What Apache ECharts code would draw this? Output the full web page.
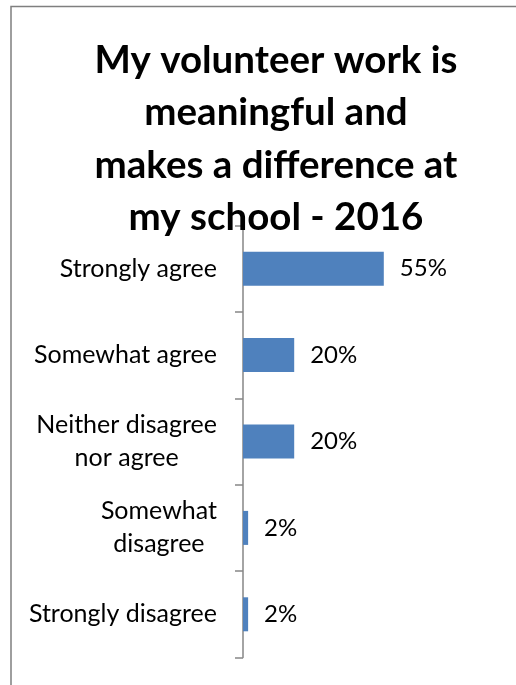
<!DOCTYPE html>
<html>
<head>
<meta charset="utf-8">
<script src="https://cdn.jsdelivr.net/npm/echarts@6/dist/echarts.min.js"></script>
<style>
html,body{margin:0;padding:0;background:#fff;}
#chart{width:516px;height:685px;}
</style>
</head>
<body>
<div id="chart"></div>
<script>
const titleText = "My volunteer work is\nmeaningful and\nmakes a difference at\nmy school - 2016";
const categories = ["Strongly agree", "Somewhat agree", "Neither disagree\nnor agree", "Somewhat\ndisagree", "Strongly disagree"];
const values = [55, 20, 20, 2, 2];

const chart = echarts.init(document.getElementById('chart'), null, {renderer: 'canvas'});
chart.setOption({
  animation: false,
  backgroundColor: '#ffffff',
  textStyle: {fontFamily: 'Lato'},
  graphic: [{
    type: 'rect',
    shape: {x: 11, y: 6.5, width: 700, height: 900},
    style: {fill: 'none', stroke: '#7f7f7f', lineWidth: 1.5},
    silent: true, z: -1
  }],
  title: {
    text: titleText,
    left: 271,
    top: 29,
    textAlign: 'center',
    textStyle: {fontFamily: 'Lato', fontWeight: 'bold', fontSize: 38.5, lineHeight: 52.5, color: '#000'}
  },
  grid: {left: 243, top: 225.5, width: 256, height: 432, containLabel: false},
  xAxis: {
    type: 'value', min: 0, max: 100, show: false
  },
  yAxis: {
    type: 'category',
    data: categories,
    inverse: true,
    axisLine: {show: true, lineStyle: {color: '#868686', width: 1.5}},
    axisTick: {show: true, length: 8, inside: false, lineStyle: {color: '#868686', width: 1.5}},
    axisLabel: {
      margin: 26,
      align: 'right',
      color: '#000',
      fontFamily: 'Lato',
      fontSize: 25,
      lineHeight: 33,
      formatter: function (v) { return v.split('\n').map(s => '{c|' + s + '}').join('\n'); },
      rich: {c: {align: 'center', fontFamily: 'Lato', fontSize: 25, lineHeight: 33, color: '#000'}}
    },
    splitLine: {show: false}
  },
  series: [{
    type: 'bar',
    data: values,
    barWidth: 34,
    itemStyle: {color: '#4f81bd'},
    label: {
      show: true,
      position: 'right',
      distance: 16,
      formatter: '{c}%',
      color: '#000',
      fontFamily: 'Lato',
      fontSize: 24
    }
  }]
});
</script>
</body>
</html>
